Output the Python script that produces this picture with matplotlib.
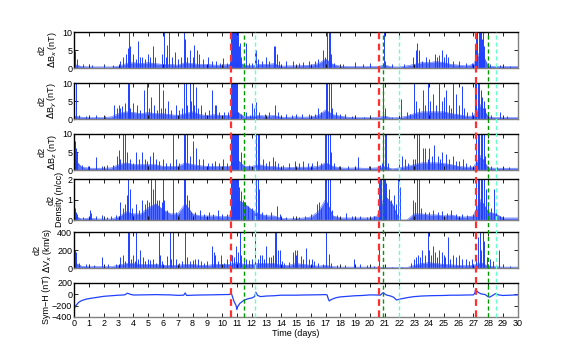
import numpy as np
import matplotlib
matplotlib.use("Agg")
import matplotlib.pyplot as plt
from matplotlib.lines import Line2D
import matplotlib.transforms as mtransforms

plt.rcParams['font.family'] = ['Liberation Sans', 'DejaVu Sans']
plt.rcParams['font.size'] = 6.5

# common half-day grid for the background level of each panel
grid_t = [0, 0.5, 1, 1.5, 2, 2.5, 3, 3.5, 4, 4.5, 5, 5.5, 6, 6.5, 7, 7.5, 8, 8.5, 9, 9.5,
          10, 10.5, 11, 11.5, 12, 12.5, 13, 13.5, 14, 14.5, 15, 15.5, 16, 16.5, 17, 17.5, 18, 18.5, 19, 19.5,
          20, 20.5, 21, 21.5, 22, 22.5, 23, 23.5, 24, 24.5, 25, 25.5, 26, 26.5, 27, 27.5, 28, 28.5, 29, 29.5, 30]

# dBx (nT)
bx_base = [1.0, 0.4, 0.3, 0.3, 0.3, 0.3, 0.5, 1.2, 1.5, 1.2, 1.5, 1.2, 1.0, 1.0, 0.8, 1.5, 1.2, 1.0, 1.0, 0.8,
           0.8, 1.0, 2.0, 0.8, 0.6, 1.0, 1.0, 1.2, 0.5, 0.6, 0.6, 0.7, 0.8, 1.2, 2.5, 1.0, 0.5, 0.4, 0.4, 0.4,
           0.4, 0.4, 0.8, 0.3, 0.3, 0.6, 1.0, 1.5, 1.5, 1.8, 1.5, 1.0, 0.8, 0.6, 1.0, 5.0, 0.5, 0.4, 0.4, 0.4, 0.4]
bx_spikes = [(0.05, 4.6), (0.15, 2.5), (0.6, 1.0), (1.2, 0.8), (2.0, 0.8), (2.6, 0.9), (3.1, 2), (3.3, 3), (3.5, 4),
             (3.6, 5.5), (3.7, 12), (3.75, 6), (4.0, 4), (4.15, 2.5), (4.3, 7.5), (4.45, 3), (4.6, 3), (4.8, 2.5),
             (5.0, 4), (5.15, 3), (5.3, 6), (5.45, 3), (5.9, 4), (6.04, 12), (6.2, 3), (6.3, 6.5), (6.42, 12),
             (6.6, 3), (6.8, 4.5), (7.0, 2.5), (7.2, 3), (7.4, 12), (7.5, 8), (7.65, 3), (7.8, 5), (8.0, 3),
             (8.1, 6.5), (8.3, 5), (8.45, 4), (8.7, 2.5), (9.05, 3), (9.3, 2), (9.6, 2), (9.85, 1.5), (10.07, 2.8),
             (10.3, 1.5), (10.55, 2), (10.62, 12), (10.68, 12), (10.74, 12), (10.8, 12), (10.86, 12), (10.92, 12),
             (10.98, 9), (11.05, 12), (11.12, 6), (11.2, 7), (11.3, 3), (11.6, 7), (11.8, 1.5), (12.0, 1.5),
             (12.2, 4.5), (12.3, 5), (12.45, 2.5), (12.7, 2), (13.0, 3), (13.2, 2), (13.5, 6), (13.6, 6), (13.7, 4),
             (13.85, 2), (14.3, 2), (14.8, 2), (15.2, 1.5), (15.5, 1.8), (15.9, 2), (16.3, 2), (16.5, 2.5),
             (16.8, 5), (16.95, 3), (17.1, 12), (17.2, 12), (17.3, 10), (17.4, 4), (17.6, 1.5), (18.2, 1),
             (19.0, 1.8), (19.5, 1), (20.0, 1.5), (20.95, 12), (21.05, 2), (21.5, 1), (22.3, 1), (22.9, 3),
             (23.1, 5), (23.2, 7), (23.3, 5), (23.5, 2), (23.8, 3), (24.0, 2.5), (24.4, 4), (24.55, 3), (24.7, 3.5),
             (24.9, 5), (25.0, 3), (25.15, 4), (25.3, 3), (25.6, 2), (26.05, 2), (26.5, 1.5), (26.9, 1.5),
             (27.12, 6), (27.2, 12), (27.28, 12), (27.36, 12), (27.44, 12), (27.52, 12), (27.6, 8), (27.68, 12),
             (27.75, 6), (28.1, 1), (28.8, 0.8), (29.5, 0.6)]

# dBy (nT)
by_base = [0.8, 0.5, 0.4, 0.4, 0.4, 0.6, 1.5, 2.0, 1.8, 1.5, 1.8, 1.5, 1.5, 1.2, 1.0, 1.5, 2.0, 1.2, 1.0, 1.2,
           1.0, 1.0, 2.0, 0.6, 0.8, 1.0, 0.8, 1.0, 0.5, 0.5, 0.6, 0.5, 0.6, 1.0, 2.5, 1.2, 0.8, 0.5, 0.4, 0.4,
           0.4, 0.4, 0.8, 0.3, 0.4, 0.8, 1.5, 2.0, 2.0, 2.0, 2.0, 1.5, 1.2, 0.8, 0.8, 4.0, 0.6, 0.4, 0.4, 0.4, 0.4]
by_spikes = [(0.12, 12), (0.3, 1), (0.8, 0.8), (1.5, 1), (2.1, 0.8), (2.7, 4), (2.9, 3), (3.0, 4), (3.1, 3),
             (3.25, 3.5), (3.4, 4.5), (3.6, 12), (3.7, 12), (3.8, 3), (4.0, 4.5), (4.25, 4), (4.45, 2.5), (4.7, 8),
             (4.9, 12), (5.05, 3), (5.2, 6), (5.4, 4), (5.6, 2.5), (5.75, 12), (5.85, 3), (6.0, 8), (6.15, 3),
             (6.35, 5), (6.55, 2.5), (6.9, 4), (7.1, 2.5), (7.3, 3), (7.45, 12), (7.55, 12), (7.65, 4), (7.8, 12),
             (7.9, 5), (8.0, 12), (8.1, 4), (8.25, 9), (8.4, 3), (8.6, 4), (8.85, 2), (9.1, 2.5), (9.3, 8),
             (9.5, 4), (9.6, 4), (9.8, 2), (10.1, 2), (10.4, 2), (10.62, 12), (10.68, 12), (10.74, 12), (10.8, 12),
             (10.86, 12), (10.92, 12), (10.98, 12), (11.1, 2), (11.3, 1.5), (11.6, 2), (11.9, 1.2), (12.05, 4.5),
             (12.15, 3), (12.3, 4.6), (12.5, 2), (12.9, 1.5), (13.2, 2), (13.55, 4), (13.75, 2), (14.3, 1.5),
             (14.7, 1.2), (15.0, 1.5), (15.4, 1.3), (15.9, 1.5), (16.3, 1.5), (16.5, 3), (16.7, 2), (17.0, 12),
             (17.1, 12), (17.2, 12), (17.35, 12), (17.45, 3), (17.7, 2), (18.0, 1.5), (18.3, 1.5), (18.8, 0.8),
             (19.6, 0.6), (20.9, 12), (21.0, 3), (21.5, 0.6), (22.1, 5.5), (22.5, 2), (22.7, 1.5), (23.0, 12),
             (23.1, 5), (23.35, 3), (23.6, 8), (23.75, 4), (23.9, 12), (24.05, 5), (24.25, 7), (24.45, 4),
             (24.7, 12), (24.85, 5), (25.0, 6), (25.15, 8), (25.35, 4), (25.5, 3), (25.65, 12), (25.8, 7),
             (26.0, 4), (26.2, 9.3), (26.4, 3), (26.6, 2), (26.9, 2), (27.12, 12), (27.2, 12), (27.3, 12),
             (27.4, 12), (27.5, 8), (27.6, 6), (27.7, 5), (27.8, 3), (28.2, 1), (28.8, 2), (29.3, 0.8)]

# dBz (nT)
bz_base = [3.0, 0.8, 0.5, 0.5, 0.5, 0.6, 1.5, 2.0, 1.5, 1.5, 1.5, 1.5, 1.0, 1.0, 1.0, 2.0, 1.5, 1.2, 1.0, 1.0,
           1.0, 1.0, 3.0, 1.0, 1.0, 1.5, 1.0, 1.0, 0.6, 0.7, 0.8, 0.8, 0.8, 1.0, 2.0, 1.0, 0.6, 0.5, 0.6, 0.5,
           0.5, 0.6, 1.0, 0.3, 0.6, 1.0, 1.5, 2.0, 2.0, 2.0, 1.8, 1.5, 1.0, 0.8, 0.8, 4.0, 0.6, 0.5, 0.5, 0.5, 0.5]
bz_spikes = [(0.03, 8), (0.1, 6), (0.15, 5), (0.5, 1.5), (0.9, 1), (1.5, 3.5), (1.9, 1), (2.2, 1.5), (2.6, 1.5),
             (2.9, 4), (3.0, 5.5), (3.1, 3), (3.3, 12), (3.4, 12), (3.55, 5), (3.75, 3), (3.95, 2), (4.2, 5),
             (4.35, 3), (4.55, 5), (4.8, 3), (4.95, 2.5), (5.1, 4), (5.35, 5), (5.55, 3), (5.75, 2.5), (6.0, 3),
             (6.2, 2), (6.5, 2), (6.7, 12), (6.9, 3), (7.1, 2), (7.4, 12), (7.5, 12), (7.6, 12), (7.8, 4),
             (8.05, 8), (8.25, 6), (8.45, 3), (8.7, 3), (9.05, 2), (9.3, 2), (9.55, 2.5), (9.8, 2), (10.05, 3),
             (10.3, 2), (10.62, 12), (10.68, 12), (10.74, 12), (10.8, 12), (10.86, 12), (10.92, 12), (10.98, 12),
             (11.1, 12), (11.3, 5), (11.5, 1.5), (11.8, 1.5), (12.3, 12), (12.4, 12), (12.5, 10), (12.75, 3),
             (13.0, 2), (13.2, 2.5), (13.45, 3.5), (13.6, 2.5), (13.8, 2), (14.1, 1.5), (14.5, 2), (14.9, 2.5),
             (15.2, 2), (15.5, 2.5), (15.8, 2), (16.1, 2), (16.4, 2.5), (16.7, 2), (16.95, 12), (17.05, 12),
             (17.15, 12), (17.3, 12), (17.4, 5), (17.6, 2), (17.9, 1), (18.5, 1), (19.2, 3.5), (19.95, 1.2),
             (20.65, 1.5), (20.8, 2), (20.9, 12), (21.0, 12), (21.1, 12), (21.2, 2), (22.0, 3), (22.2, 4),
             (22.4, 3), (22.6, 2), (22.9, 3), (23.05, 3), (23.2, 12), (23.3, 12), (23.35, 8), (23.6, 6),
             (23.75, 6), (23.9, 3), (24.0, 6), (24.2, 4), (24.35, 7), (24.6, 4), (24.75, 3), (24.9, 5),
             (25.15, 4.5), (25.35, 3), (25.6, 4), (25.8, 2.5), (26.05, 2.5), (26.3, 3), (26.5, 2), (26.8, 1.5),
             (27.2, 12), (27.3, 12), (27.4, 12), (27.5, 12), (27.6, 12), (27.7, 12), (27.8, 4), (28.2, 1),
             (28.6, 0.8), (29.4, 0.8)]

# density (n/cc)
dn_base = [0.2, 0.05, 0.1, 0.05, 0.05, 0.05, 0.15, 0.4, 0.3, 0.3, 0.6, 0.8, 0.5, 0.3, 0.3, 0.8, 0.3, 0.2, 0.2, 0.2,
           0.15, 0.2, 1.0, 0.8, 0.5, 0.3, 0.2, 0.2, 0.08, 0.05, 0.08, 0.1, 0.15, 0.4, 1.0, 0.2, 0.1, 0.1, 0.1, 0.1,
           0.1, 0.2, 1.2, 0.8, 0.0, 0.0, 0.3, 0.3, 0.25, 0.25, 0.2, 0.25, 0.15, 0.15, 0.2, 1.0, 0.4, 0.3, 0.1, 0.1, 0.1]
dn_spikes = [(0.03, 0.6), (0.1, 0.4), (0.2, 0.3), (0.6, 0.15), (1.05, 0.5), (1.15, 0.35), (1.5, 0.2), (1.85, 0.25),
             (2.2, 0.15), (2.5, 0.2), (2.8, 0.25), (3.1, 0.9), (3.3, 0.6), (3.45, 0.8), (3.55, 1.2), (3.65, 2.5),
             (3.75, 1.5), (3.9, 0.6), (4.2, 0.8), (4.4, 0.5), (4.6, 1.0), (4.75, 0.8), (4.9, 1.0), (5.05, 0.9),
             (5.2, 2.5), (5.3, 1.5), (5.45, 2.5), (5.6, 1.0), (5.75, 1.0), (5.9, 0.9), (6.0, 2.5), (6.1, 1.0),
             (6.3, 0.5), (6.7, 2.5), (6.9, 0.4), (7.1, 0.3), (7.4, 2.5), (7.5, 2.5), (7.6, 1.2), (7.75, 1.0),
             (7.9, 0.4), (8.2, 0.4), (8.5, 0.5), (8.8, 0.3), (9.1, 0.4), (9.4, 0.3), (9.7, 0.5), (10.0, 0.3),
             (10.3, 0.3), (10.62, 2.5), (10.68, 2.5), (10.74, 2.5), (10.8, 2.5), (10.86, 2.5), (10.92, 2.5),
             (10.98, 2.5), (11.05, 2.5), (11.15, 1.6), (11.3, 1.4), (11.4, 1.0), (11.55, 0.9), (11.75, 0.7),
             (12.0, 0.6), (12.3, 2.5), (12.4, 2.5), (12.5, 1.5), (12.7, 0.4), (13.0, 0.3), (13.3, 0.4), (13.7, 0.7),
             (13.9, 0.3), (14.3, 0.15), (14.8, 0.2), (15.2, 0.15), (15.6, 0.2), (16.0, 0.3), (16.4, 0.8),
             (16.55, 0.9), (16.7, 0.6), (16.95, 2.5), (17.05, 2.5), (17.15, 2.5), (17.3, 2.5), (17.45, 0.5),
             (17.8, 0.25), (18.4, 0.35), (18.8, 0.2), (19.3, 0.2), (19.8, 0.15), (20.3, 0.2), (20.62, 2.5),
             (20.7, 2.5), (20.78, 2.5), (20.86, 2.5), (20.94, 2.5), (21.02, 2.5), (21.1, 1.8), (21.3, 1.5),
             (21.45, 1.0), (21.6, 1.2), (21.75, 0.8), (21.9, 2.0), (22.05, 1.6), (22.9, 1.0), (23.05, 0.9),
             (23.2, 2.5), (23.3, 2.5), (23.45, 0.6), (23.7, 0.4), (24.0, 0.4), (24.3, 0.5), (24.6, 0.4),
             (24.9, 0.45), (25.2, 0.35), (25.5, 0.5), (25.8, 0.3), (26.2, 0.3), (26.6, 0.25), (27.0, 0.3),
             (27.2, 2.5), (27.3, 2.5), (27.4, 2.5), (27.5, 2.5), (27.6, 2.5), (27.7, 2.0), (27.85, 1.5),
             (28.0, 0.8), (28.2, 0.6), (28.4, 1.5), (28.5, 0.5), (28.8, 0.2)]

# dVx (km/s)
vx_base = [60, 20, 15, 15, 15, 15, 30, 50, 50, 40, 40, 40, 30, 30, 30, 40, 40, 30, 30, 40,
           40, 40, 60, 40, 40, 50, 50, 50, 30, 30, 50, 40, 30, 20, 30, 15, 10, 10, 10, 10,
           10, 10, 5, 3, 3, 5, 30, 50, 60, 50, 40, 35, 30, 25, 30, 60, 20, 15, 10, 10, 10]
vx_spikes = [(0.03, 200), (0.12, 180), (0.3, 60), (0.8, 40), (1.3, 30), (1.85, 120), (2.3, 40), (2.8, 50),
             (3.1, 120), (3.3, 150), (3.45, 80), (3.6, 420), (3.7, 420), (3.85, 100), (4.0, 150), (4.1, 80),
             (4.2, 420), (4.3, 100), (4.45, 200), (4.65, 120), (4.8, 80), (5.0, 100), (5.15, 90), (5.35, 100),
             (5.5, 60), (5.7, 420), (5.8, 150), (5.95, 80), (6.25, 130), (6.45, 420), (6.55, 100), (6.7, 420),
             (6.9, 100), (7.1, 60), (7.3, 80), (7.5, 420), (7.6, 120), (7.8, 80), (8.0, 90), (8.2, 100),
             (8.4, 100), (8.6, 80), (8.8, 60), (9.0, 80), (9.3, 250), (9.45, 180), (9.55, 150), (9.75, 80),
             (9.95, 150), (10.1, 60), (10.3, 100), (10.55, 80), (10.7, 150), (10.8, 120), (10.95, 250),
             (11.05, 180), (11.2, 420), (11.3, 150), (11.45, 100), (11.6, 100), (11.8, 90), (12.0, 100),
             (12.25, 420), (12.4, 100), (12.55, 150), (12.7, 150), (12.85, 100), (13.0, 250), (13.15, 120),
             (13.3, 120), (13.45, 150), (13.55, 420), (13.65, 420), (13.75, 200), (13.9, 200), (14.05, 80),
             (14.2, 60), (14.5, 70), (14.8, 180), (14.9, 200), (15.0, 150), (15.1, 200), (15.35, 130),
             (15.5, 100), (15.7, 220), (15.9, 100), (16.05, 100), (16.2, 80), (16.5, 60), (16.8, 40),
             (17.0, 420), (17.25, 160), (17.4, 60), (17.8, 30), (18.3, 30), (18.9, 100), (19.3, 50), (19.8, 30),
             (20.3, 20), (20.6, 250), (20.9, 15), (21.5, 10), (22.2, 10), (22.8, 60), (22.95, 100), (23.1, 120),
             (23.25, 150), (23.4, 120), (23.55, 200), (23.7, 150), (23.9, 420), (24.0, 200), (24.15, 150),
             (24.25, 250), (24.4, 180), (24.55, 120), (24.7, 200), (24.85, 180), (25.0, 150), (25.1, 120),
             (25.3, 350), (25.45, 100), (25.6, 150), (25.8, 120), (26.0, 150), (26.2, 100), (26.5, 100),
             (26.7, 80), (26.9, 100), (27.15, 150), (27.3, 350), (27.45, 420), (27.55, 200), (27.65, 420),
             (27.75, 300), (27.9, 120), (28.1, 100), (28.3, 80), (28.75, 200), (29.0, 30), (29.5, 20)]

# Sym-H (nT)
symh_t = [0, 0.1, 0.3, 0.5, 0.8, 1.0, 1.5, 2.0, 2.5, 3.0, 3.4, 3.6, 3.8, 4.0, 4.5, 5.0, 5.5, 6.0, 6.5, 7.0,
          7.4, 7.5, 7.6, 8.0, 8.5, 9.0, 9.5, 10.0, 10.5, 10.58, 10.65, 10.8, 10.95, 11.0, 11.05, 11.2, 11.5,
          11.8, 12.0, 12.2, 12.28, 12.4, 12.6, 13.0, 13.5, 14.0, 14.5, 15.0, 15.5, 16.0, 16.5, 17.0, 17.1,
          17.2, 17.25, 17.4, 17.7, 18.0, 18.5, 19.0, 19.5, 20.0, 20.5, 20.7, 20.9, 21.1, 21.4, 21.6, 21.8,
          22.0, 22.3, 22.6, 23.0, 23.5, 24.0, 24.5, 25.0, 25.5, 26.0, 26.5, 27.0, 27.1, 27.15, 27.3, 27.5,
          27.8, 28.0, 28.1, 28.3, 28.5, 28.7, 29.0, 29.5, 30.0]
symh_v = [-250, -200, -140, -110, -85, -75, -55, -35, -25, -15, -10, 20, 0, -12, -10, -8, -5, -8, -10, -18,
          -15, 25, -20, -15, -12, -10, -8, -5, -3, 15, 0, -120, -200, -270, -220, -160, -100,
          -75, -65, -40, 38, -20, -40, -30, -25, -15, -15, -15, -12, -10, -8, -5, -10,
          -90, -117, -90, -60, -45, -35, -25, -20, -10, -12, -15, 30, -10, -30, -50, -100,
          -85, -70, -55, -40, -30, -25, -22, -20, -15, -15, -12, -10, 20, 87, 40, 10,
          -5, -43, -50, -20, 13, -10, -20, -15, -10]

red_days = [10.6, 20.6, 27.15]
green_days = [11.45, 20.86, 27.97]
cyan_days = [12.23, 22.0, 28.5]

blue = '#2040ff'
W, H = 572, 354
# panel pixel rows (top, bottom)
rows = [(32, 68), (83, 119), (134, 170), (179, 220), (232, 268), (283, 317)]
left_px, right_px = 74.3, 517.7

fig = plt.figure(figsize=(W / 100, H / 100), dpi=100)
axes = []
for top, bot in rows:
    ax = fig.add_axes([left_px / W, 1 - bot / H, (right_px - left_px) / W, (bot - top) / H])
    axes.append(ax)

panels = [
    (bx_base, bx_spikes, (0, 10), [0, 5, 10], 'd2\n$\\Delta$B$_x$ (nT)'),
    (by_base, by_spikes, (0, 10), [0, 5, 10], 'd2\n$\\Delta$B$_y$ (nT)'),
    (bz_base, bz_spikes, (0, 10), [0, 5, 10], 'd2\n$\\Delta$B$_z$ (nT)'),
    (dn_base, dn_spikes, (0, 2), [0, 1, 2], 'd2\nDensity (n/cc)'),
    (vx_base, vx_spikes, (0, 400), [0, 200, 400], 'd2\n$\\Delta$V$_x$ (km/s)'),
]

for ax, (base, spikes, ylim, yt, lab) in zip(axes[:5], panels):
    ax.fill_between(grid_t, 0, base, color=blue, lw=0, alpha=0.75)
    ax.plot(grid_t, base, color=blue, lw=0.4, alpha=0.8)
    st = [s[0] for s in spikes]
    sv = [s[1] for s in spikes]
    ax.vlines(st, 0, sv, color=blue, lw=0.7)
    ax.set_ylim(*ylim)
    ax.set_yticks(yt)
    ax.set_ylabel(lab, fontsize=6.5, labelpad=2, linespacing=1.0)

ax6 = axes[5]
ax6.plot(symh_t, symh_v, color=blue, lw=0.9)
ax6.set_ylim(-400, 200)
ax6.set_yticks([-400, -200, 0, 200])
ax6.set_ylabel('Sym\u2212H (nT)', fontsize=6.5, labelpad=1)
ax6.set_xlabel('Time (days)', fontsize=6.5, labelpad=1)

for i, ax in enumerate(axes):
    ax.set_xlim(0, 30)
    ax.set_xticks(range(0, 31))
    ax.tick_params(direction='in', length=3, width=0.6, top=True, right=True,
                   labelsize=6.5, pad=1.5)
    if i < 5:
        ax.set_xticklabels([])
    for side in ['top', 'left']:
        ax.spines[side].set_color('black')
        ax.spines[side].set_linewidth(1.0)
    for side in ['bottom', 'right']:
        ax.spines[side].set_color('#808080')
        ax.spines[side].set_linewidth(1.0)

# event markers across all panels
tr = mtransforms.blended_transform_factory(ax6.transData, fig.transFigure)
y0, y1 = 1 - rows[5][1] / H, 1 - rows[0][0] / H
for days, col, lw in [(red_days, '#ff3030', 1.6), (green_days, '#009a00', 1.0), (cyan_days, '#66ffcc', 1.0)]:
    for d in days:
        fig.add_artist(Line2D([d, d], [y0, y1], transform=tr, color=col, lw=lw,
                              linestyle=(0, (3, 2)), zorder=5))

fig.savefig('out.png', dpi=100)
